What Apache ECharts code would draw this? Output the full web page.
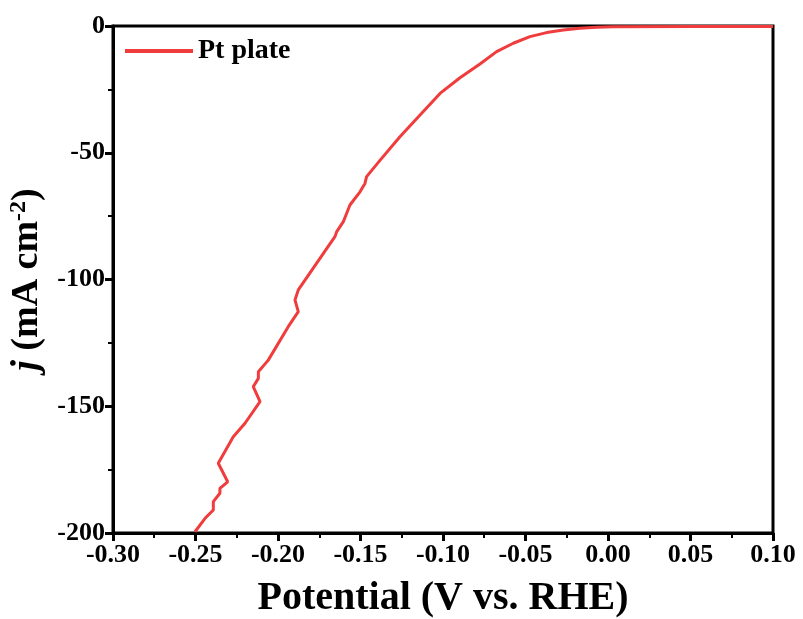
<!DOCTYPE html>
<html><head><meta charset="utf-8">
<script src="https://cdn.jsdelivr.net/npm/echarts@6/dist/echarts.min.js"></script>
<style>html,body{margin:0;padding:0;background:#fff}#c{width:803px;height:619px}</style>
</head><body><div id="c"></div>
<script>
const seriesName = 'Pt plate';
const potential = [-0.2503,-0.2442,-0.2392,-0.2392,-0.2352,-0.2352,-0.2305,-0.2362,-0.2271,-0.2200,-0.2109,-0.2150,-0.2119,-0.2119,-0.2059,-0.1938,-0.1877,-0.1897,-0.1877,-0.1655,-0.1644,-0.1604,-0.1564,-0.1503,-0.1473,-0.1463,-0.1382,-0.1261,-0.1139,-0.1018,-0.0897,-0.0776,-0.0675,-0.0574,-0.0473,-0.0372,-0.0271,-0.0170,-0.0069,0.0032,0.0500,0.1000];
const current = [-199.5,-194.2,-190.9,-187.6,-184.3,-182.4,-179.8,-172.5,-162.0,-156.7,-148.2,-142.3,-139.0,-136.4,-131.8,-118.6,-112.7,-108.1,-104.1,-83.1,-81.1,-77.2,-70.6,-65.4,-62.1,-59.4,-53.0,-43.7,-35.1,-26.6,-20.4,-15.0,-10.1,-6.8,-4.2,-2.6,-1.6,-0.9,-0.5,-0.3,-0.2,-0.15];
const xTicks = {min:-0.30, max:0.10, interval:0.05};
const yTicks = {min:-200, max:0, interval:50};

const font = 'Liberation Serif, Times New Roman, serif';
const chart = echarts.init(document.getElementById('c'));
const axisCommon = {
  axisLine:{show:true, onZero:false, lineStyle:{color:'#000', width:3}},
  axisTick:{show:true, inside:false, length:8, lineStyle:{color:'#000', width:3}},
  minorTick:{show:true, splitNumber:2, length:5, lineStyle:{color:'#000', width:2}},
  splitLine:{show:false},
  axisLabel:{color:'#000', fontFamily:font, fontWeight:'bold', fontSize:26}
};
chart.setOption({
  animation:false,
  grid:{left:113, right:30, top:26, bottom:86, containLabel:false, outerBoundsMode:'none',
    show:true, borderColor:'#000', borderWidth:3, backgroundColor:'transparent'},
  legend:{show:true, left:120, top:32, data:[seriesName], icon:'rect', itemWidth:68, itemHeight:4, itemGap:8,
    textStyle:{fontFamily:font, fontWeight:'bold', fontSize:28, color:'#000'}},
  xAxis:Object.assign({}, axisCommon, {
    type:'value', min:xTicks.min, max:xTicks.max, interval:xTicks.interval,
    axisLabel:Object.assign({}, axisCommon.axisLabel, {margin:9, formatter:v=>v.toFixed(2)}),
    name:'Potential (V vs. RHE)', nameLocation:'middle', nameGap:46,
    nameTextStyle:{fontFamily:font, fontWeight:'bold', fontSize:40, color:'#000'}
  }),
  yAxis:Object.assign({}, axisCommon, {
    type:'value', min:yTicks.min, max:yTicks.max, interval:yTicks.interval,
    axisLabel:Object.assign({}, axisCommon.axisLabel, {margin:8}),
    name:'{i|j} (mA cm{s|-2})', nameLocation:'middle', nameGap:62, nameRotate:90,
    nameTextStyle:{fontFamily:font, fontWeight:'bold', fontSize:38, color:'#000',
      rich:{
        i:{fontFamily:font, fontWeight:'bold', fontStyle:'italic', fontSize:38, color:'#000'},
        s:{fontFamily:font, fontWeight:'bold', fontSize:24, color:'#000', padding:[0,0,18,0]}
      }}
  }),
  series:[{
    name:seriesName, type:'line', symbol:'none', smooth:false,
    data:potential.map((v,i)=>[v,current[i]]),
    lineStyle:{color:'#f03c3c', width:3}, itemStyle:{color:'#f03c3c'}
  }]
});
</script></body></html>
